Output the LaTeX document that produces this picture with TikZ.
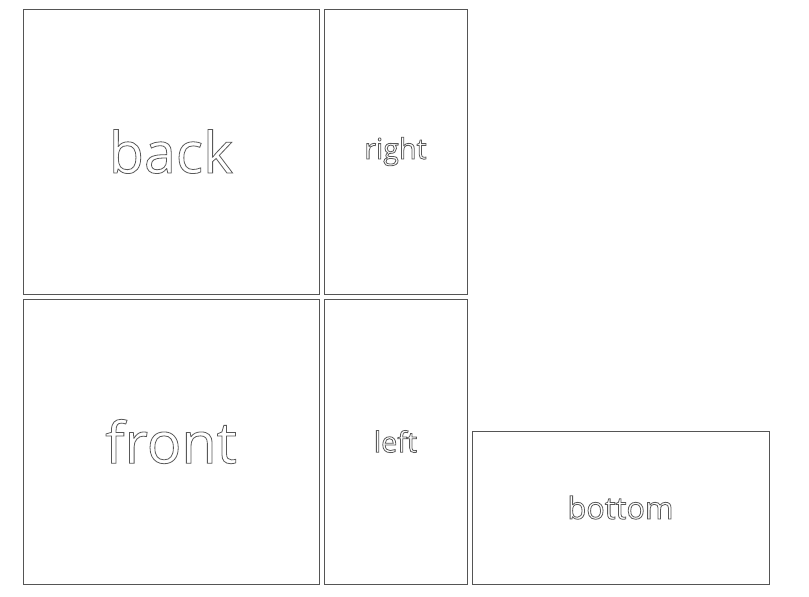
\documentclass[tikz,border=0pt]{standalone}
\usepackage{fontspec}
\setmainfont{Open Sans}
\usepackage{tikz}

\tikzset{
  panel/.style={draw={rgb,255:red,85;green,85;blue,85},line width=0.75pt,inner sep=0pt,outer sep=0pt},
  wordbig/.style={font=\fontsize{43}{43}\selectfont},
  wordmid/.style={font=\fontsize{23}{23}\selectfont},
  wordsmall/.style={font=\fontsize{21.5}{21.5}\selectfont}
}
% outlined word (stroke only)
\newcommand{\outl}[1]{{\color{gray!70!black}\special{pdf:code 1 Tr 0.6 w}#1\special{pdf:code 0 Tr}}}

\begin{document}
\begin{tikzpicture}[x=0.75pt,y=0.75pt,yscale=-1,xscale=1]
\useasboundingbox (0,0) rectangle (809,596);
%back panel
\node [panel,wordbig,minimum width=222pt,minimum height=213.75pt] (back) at (171,151.5) {\outl{back}};
%right panel
\node [panel,wordsmall,minimum width=107.25pt,minimum height=213.75pt] (right) at (395.5,151.5) {\outl{right}};
%front panel
\node [panel,wordbig,minimum width=222pt,minimum height=213.75pt] (front) at (171,441.5) {\outl{front}};
%left panel
\node [panel,wordsmall,minimum width=107.25pt,minimum height=213.75pt] (left) at (395.5,441.5) {\outl{left}};
%bottom panel
\node [panel,wordmid,minimum width=222.75pt,minimum height=114.75pt] (bottom) at (620.5,507.5) {\outl{bottom}};
\end{tikzpicture}
\end{document}
